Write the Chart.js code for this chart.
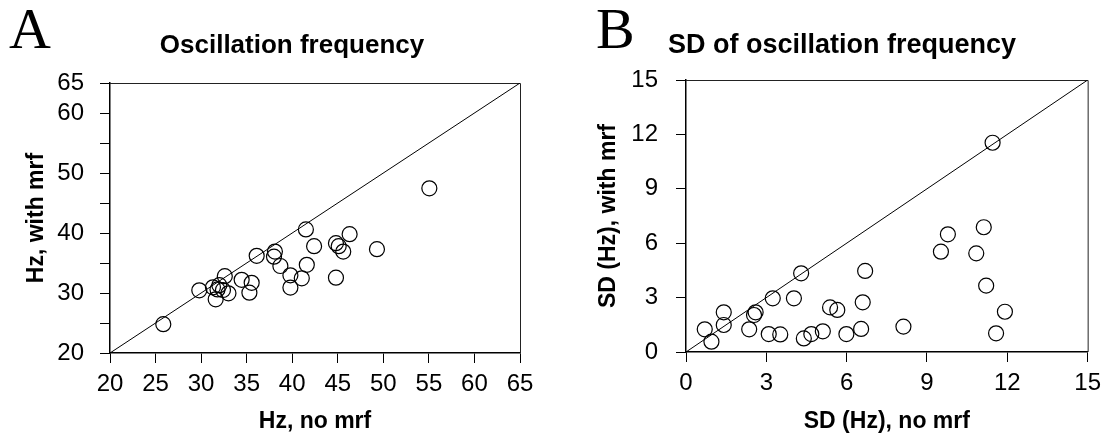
<!DOCTYPE html>
<html>
<head>
<meta charset="utf-8">
<script src="https://cdn.jsdelivr.net/npm/chart.js@4/dist/chart.umd.min.js"></script>
<style>
  html, body { margin:0; padding:0; background:#fff; }
  #wrap { position:relative; width:1108px; height:435px; overflow:hidden; background:#fff; }
  canvas { position:absolute; top:0; }
  #cA { left:0; }
  #cB { left:554px; }
</style>
</head>
<body>
<div id="wrap">
  <canvas id="cA" width="554" height="435"></canvas>
  <canvas id="cB" width="554" height="435"></canvas>
</div>
<script>
// ---------- Panel A data ----------
const letterA = "A";
const titleA = "Oscillation frequency";
const xTitleA = "Hz, no mrf";
const yTitleA = "Hz, with mrf";
const xNoMrfA = [25.85, 29.8, 31.3, 31.6, 31.8, 32.0, 32.4, 32.6, 33.0, 34.45, 35.3, 35.55, 36.1, 38.0, 38.1, 38.7, 39.8, 39.8, 41.05, 41.5, 41.6, 42.4, 44.8, 44.8, 45.1, 45.6, 46.3, 49.3, 55.05];
const yWithMrfA = [24.8, 30.45, 30.95, 28.95, 30.6, 31.3, 30.5, 32.8, 29.95, 32.2, 30.05, 31.7, 36.2, 36.05, 36.9, 34.5, 32.95, 30.9, 32.45, 40.6, 34.7, 37.8, 38.3, 32.55, 37.8, 36.9, 39.8, 37.3, 47.45];
const xTicksA = [20, 25, 30, 35, 40, 45, 50, 55, 60, 65];
const yTicksA = [20, 25, 30, 35, 40, 45, 50, 55, 60, 65];
const yTickLabelsA = [20, 30, 40, 50, 60, 65];

// ---------- Panel B data ----------
const letterB = "B";
const titleB = "SD of oscillation frequency";
const xTitleB = "SD (Hz), no mrf";
const yTitleB = "SD (Hz), with mrf";
const xNoMrfB = [0.70, 0.95, 1.41, 1.41, 2.36, 2.54, 2.60, 3.09, 3.24, 3.52, 4.03, 4.30, 4.40, 4.68, 5.11, 5.38, 5.65, 5.99, 6.54, 6.60, 6.69, 8.12, 9.52, 9.78, 10.84, 11.12, 11.21, 11.45, 11.58, 11.91];
const yWithMrfB = [1.25, 0.57, 2.19, 1.49, 1.25, 2.04, 2.19, 0.99, 2.96, 0.97, 2.96, 4.34, 0.75, 0.99, 1.14, 2.46, 2.32, 0.99, 1.27, 2.74, 4.47, 1.40, 5.53, 6.49, 5.44, 6.88, 3.66, 11.54, 1.03, 2.22];
const xTicksB = [0, 3, 6, 9, 12, 15];
const yTicksB = [0, 3, 6, 9, 12, 15];
const yTickLabelsB = [0, 3, 6, 9, 12, 15];

// ---------- helpers ----------
const SANS = "'Liberation Sans', Arial, Helvetica, sans-serif";
const SERIF = "'Liberation Serif', 'Times New Roman', serif";

const panelText = {
  id: 'panelText',
  afterDraw(chart, args, opts) {
    const ctx = chart.ctx;
    (opts.items || []).forEach(t => {
      ctx.save();
      ctx.font = t.font;
      ctx.fillStyle = '#000';
      ctx.textAlign = t.align || 'left';
      ctx.textBaseline = 'alphabetic';
      ctx.fillText(t.text, t.x, t.y);
      ctx.restore();
    });
  }
};

const frameBox = {
  id: 'frameBox',
  beforeDatasetsDraw(chart) {
    const {ctx, chartArea: a} = chart;
    ctx.save();
    ctx.strokeStyle = '#222';
    ctx.lineWidth = 1;
    ctx.beginPath();
    ctx.moveTo(a.left, a.top + 0.5);
    ctx.lineTo(a.right + 0.5, a.top + 0.5);
    ctx.lineTo(a.right + 0.5, a.bottom);
    ctx.stroke();
    ctx.restore();
  }
};

function makeChart(id, cfg) {
  const pts = cfg.xs.map((x, i) => ({x: x, y: cfg.ys[i]}));
  const lo = cfg.xTicks[0], hi = cfg.xTicks[cfg.xTicks.length - 1];
  const identity = [{x: lo, y: lo}, {x: hi, y: hi}];
  return new Chart(document.getElementById(id), {
    type: 'scatter',
    data: {
      datasets: [
        {
          data: identity,
          showLine: true,
          borderColor: '#000',
          borderWidth: 1,
          pointRadius: 0,
          fill: false,
          order: 2
        },
        {
          data: pts,
          pointRadius: 7.5,
          pointHoverRadius: 7.5,
          pointBorderWidth: 1.2,
          pointBorderColor: '#000',
          pointBackgroundColor: 'rgba(0,0,0,0)',
          clip: false,
          order: 1
        }
      ]
    },
    options: {
      responsive: false,
      animation: false,
      events: [],
      layout: { padding: { left: 0, right: cfg.padRight, top: cfg.padTop, bottom: 0 } },
      plugins: {
        legend: { display: false },
        tooltip: { enabled: false },
        panelText: { items: cfg.texts }
      },
      scales: {
        x: {
          type: 'linear',
          min: lo, max: hi,
          afterBuildTicks: s => { s.ticks = cfg.xTicks.map(v => ({value: v})); },
          afterFit: s => { s.height = cfg.xAxisH; },
          grid: { display: true, drawOnChartArea: false, drawTicks: true, tickLength: 10, color: '#000', lineWidth: 1 },
          border: { display: true, color: '#000', width: 1.5 },
          ticks: { color: '#000', font: { family: SANS, size: 24 }, padding: 7, maxRotation: 0, autoSkip: false },
          title: { display: true, text: cfg.xTitle, color: '#000', font: { family: SANS, size: 23, weight: 'bold' }, padding: 0 }
        },
        y: {
          type: 'linear',
          min: cfg.yTicks[0], max: cfg.yTicks[cfg.yTicks.length - 1],
          afterBuildTicks: s => { s.ticks = cfg.yTicks.map(v => ({value: v})); },
          afterFit: s => { s.width = cfg.yAxisW; },
          grid: { display: true, drawOnChartArea: false, drawTicks: true, tickLength: 10, color: '#000', lineWidth: 1 },
          border: { display: true, color: '#000', width: 1.5 },
          ticks: {
            color: '#000', font: { family: SANS, size: 24 }, padding: cfg.yTickPad, autoSkip: false,
            callback: v => cfg.yLabels.includes(v) ? String(v) : ''
          },
          title: { display: true, text: cfg.yTitle, color: '#000', font: { family: SANS, size: 23, weight: 'bold' }, padding: { top: cfg.yTitlePad, bottom: 0 } }
        }
      }
    },
    plugins: [frameBox, panelText]
  });
}

makeChart('cA', {
  xs: xNoMrfA, ys: yWithMrfA,
  xTicks: xTicksA, yTicks: yTicksA, yLabels: yTickLabelsA,
  xTitle: xTitleA, yTitle: yTitleA,
  padRight: 34, padTop: 83, xAxisH: 82, yAxisW: 110, yTickPad: 16, yTitlePad: 23,
  texts: [
    { text: letterA, x: 9, y: 48, font: "58px " + SERIF, align: 'left' },
    { text: titleA, x: 292, y: 53, font: "bold 26px " + SANS, align: 'center' }
  ]
});

makeChart('cB', {
  xs: xNoMrfB, ys: yWithMrfB,
  xTicks: xTicksB, yTicks: yTicksB, yLabels: yTickLabelsB,
  xTitle: xTitleB, yTitle: yTitleB,
  padRight: 13, padTop: 80, xAxisH: 83, yAxisW: 132, yTickPad: 18, yTitlePad: 41,
  texts: [
    { text: letterB, x: 42, y: 48, font: "58px " + SERIF, align: 'left' },
    { text: titleB, x: 288, y: 53, font: "bold 27px " + SANS, align: 'center' }
  ]
});
</script>
</body>
</html>
